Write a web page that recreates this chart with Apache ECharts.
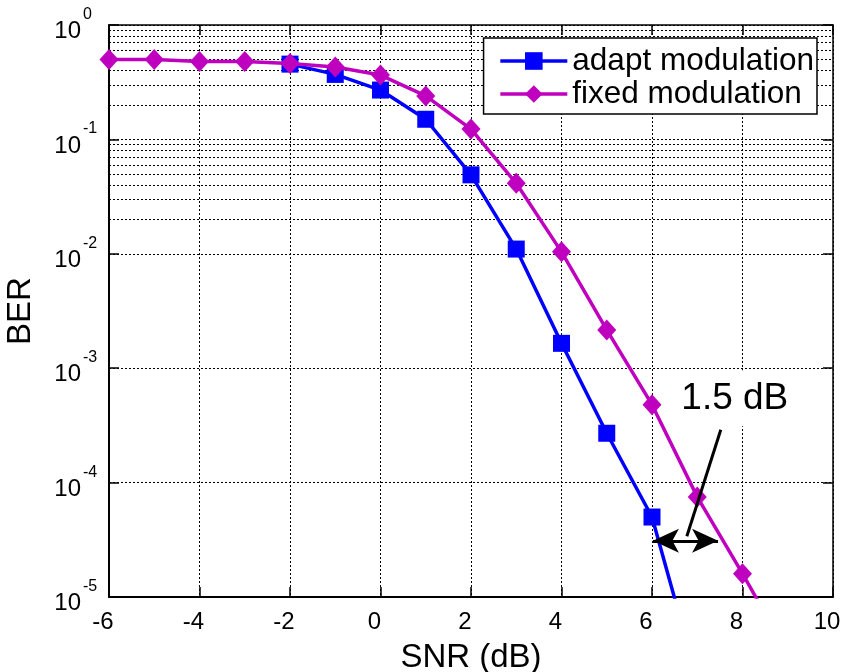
<!DOCTYPE html>
<html>
<head>
<meta charset="utf-8">
<script src="https://cdn.jsdelivr.net/npm/echarts@6/dist/echarts.min.js"></script>
<style>html,body{margin:0;padding:0;background:#fff}#c{width:845px;height:672px}</style>
</head>
<body>
<div id="c"></div>
<script>
// ---- data ----
var snrAdapt = [-2, -1, 0, 1, 2, 3, 4, 5, 6, 7];
var berAdapt = [0.455, 0.37, 0.27, 0.15, 0.049, 0.011, 0.00165, 0.00027, 0.00005, 0.0000019];
var snrFixed = [-6, -5, -4, -3, -2, -1, 0, 1, 2, 3, 4, 5, 6, 7, 8, 9];
var berFixed = [0.5, 0.5, 0.48, 0.48, 0.46, 0.43, 0.365, 0.24, 0.123, 0.0413, 0.0104, 0.00216, 0.00048, 0.000075, 0.000016, 0.0000032];
var seriesNames = ['adapt modulation', 'fixed modulation'];
var xTicks = [-6, -4, -2, 0, 2, 4, 6, 8, 10];
var decades = [-5, -4, -3, -2, -1, 0];
var annotationText = '1.5 dB';
var gapArrow = [[6.02, 3.1e-5], [7.46, 3.1e-5]];
var leader = [[7.52, 2.9e-4], [6.77, 3.4e-5]];
var textAnchor = [7.83, 5.45e-4];

function pairs(xs, ys) { return xs.map(function (x, i) { return [x, ys[i]]; }); }

var minorLines = [];
decades.slice(0, -1).forEach(function (e) {
  for (var k = 2; k <= 9; k++) minorLines.push({ yAxis: k * Math.pow(10, e) });
});

var gridDash = { color: '#000', width: 1, type: [2, 2] };
var FONT = 'Arial, "Liberation Sans", sans-serif';
var noLine = { show: false };

var chart = echarts.init(document.getElementById('c'));
chart.setOption({
  animation: false,
  backgroundColor: '#fff',
  textStyle: { fontFamily: FONT },
  grid: { left: 109, right: 12, top: 25, bottom: 75, containLabel: false, outerBoundsMode: 'none' },
  legend: {
    orient: 'vertical',
    right: 28, top: 38,
    backgroundColor: '#fff',
    borderColor: '#000', borderWidth: 1.5, borderRadius: 0,
    padding: [7, 3, 4, 15],
    itemGap: 1,
    itemWidth: 67, itemHeight: 22,
    lineStyle: { width: 3.5 },
    textStyle: { fontSize: 31.5, color: '#000', fontFamily: FONT },
    data: seriesNames
  },
  xAxis: [{
    type: 'value', min: -6, max: 10, interval: 2,
    name: 'SNR (dB)', nameLocation: 'middle', nameGap: 44,
    nameTextStyle: { fontSize: 33, color: '#000', fontFamily: FONT },
    axisLine: { onZero: false, lineStyle: { color: '#000', width: 2 } },
    axisTick: { inside: true, length: 10, lineStyle: { color: '#000', width: 1.5 } },
    axisLabel: { fontSize: 24, color: '#000', margin: 13, padding: [0, 12, 0, 0], fontFamily: FONT },
    splitLine: { show: true, lineStyle: gridDash }
  }, {
    type: 'value', min: -6, max: 10, interval: 2, position: 'top',
    axisLine: { onZero: false, lineStyle: { color: '#000', width: 1.5 } },
    axisTick: { inside: true, length: 10, lineStyle: { color: '#000', width: 1.5 } },
    axisLabel: { show: false }, splitLine: { show: false }
  }],
  yAxis: [{
    type: 'log', logBase: 10, min: 1e-5, max: 1, splitNumber: 5,
    name: 'BER', nameLocation: 'middle', nameGap: 72, nameRotate: 90,
    nameTextStyle: { fontSize: 33, color: '#000', fontFamily: FONT },
    axisLine: { show: true, onZero: false, lineStyle: { color: '#000', width: 2 } },
    axisTick: { show: true, inside: true, length: 10, lineStyle: { color: '#000', width: 1.5 } },
    axisLabel: {
      margin: 28, color: '#000', fontSize: 24, fontFamily: FONT,
      verticalAlign: 'top', lineHeight: 13,
      formatter: function () { return '10'; }
    },
    splitLine: { show: true, lineStyle: gridDash }
  }, {
    type: 'log', logBase: 10, min: 1e-5, max: 1, splitNumber: 5, position: 'right',
    axisLine: { show: true, onZero: false, lineStyle: { color: '#000', width: 1.5 } },
    axisTick: { show: true, inside: true, length: 10, lineStyle: { color: '#000', width: 1.5 } },
    axisLabel: { show: false }, splitLine: { show: false }
  }, {
    type: 'log', logBase: 10, min: 1e-5, max: 1, splitNumber: 5, position: 'left', offset: 0,
    axisLine: noLine, axisTick: noLine, splitLine: noLine,
    axisLabel: {
      margin: 26, align: 'left', color: '#000', fontSize: 16, fontFamily: FONT,
      verticalAlign: 'bottom', lineHeight: 21,
      formatter: function (v) { return String(Math.round(Math.log10(v))); }
    }
  }],
  series: [{
    name: 'minor-grid', type: 'line', data: [], silent: true, z: 1,
    markLine: {
      silent: true, z: 1, symbol: ['none', 'none'], label: { show: false },
      lineStyle: gridDash, emphasis: { disabled: true },
      data: minorLines, animation: false
    }
  }, {
    name: 'annotation-box', type: 'line', data: [], silent: true, z: 1,
    markPoint: {
      silent: true, z: 1.5,
      symbol: 'rect', symbolSize: [118, 56],
      itemStyle: { color: '#fff' },
      label: { show: true, position: 'inside', formatter: annotationText, fontSize: 37, color: '#000', fontFamily: FONT },
      data: [{ coord: textAnchor }]
    }
  }, {
    name: seriesNames[0], type: 'line', z: 3,
    data: pairs(snrAdapt, berAdapt),
    color: '#0000ff',
    symbol: 'rect', symbolSize: 17,
    lineStyle: { width: 3.5, color: '#0000ff' },
    itemStyle: { color: '#0000ff' },
    clip: true
  }, {
    name: seriesNames[1], type: 'line', z: 4,
    data: pairs(snrFixed, berFixed),
    color: '#bf00bf',
    symbol: 'diamond', symbolSize: [19, 21],
    lineStyle: { width: 3.5, color: '#bf00bf' },
    itemStyle: { color: '#bf00bf' },
    clip: true
  }, {
    name: 'arrow', type: 'line', data: [], silent: true, z: 5,
    markLine: {
      silent: true, z: 6, label: { show: false },
      lineStyle: { color: '#000', width: 3, type: 'solid' },
      emphasis: { disabled: true },
      data: [
        [{ coord: gapArrow[0], symbol: 'arrow', symbolSize: [18, 26] }, { coord: gapArrow[1], symbol: 'arrow', symbolSize: [18, 26] }],
        [{ coord: leader[0], symbol: 'none' }, { coord: leader[1], symbol: 'none' }]
      ]
    }
  }]
});
</script>
</body>
</html>
